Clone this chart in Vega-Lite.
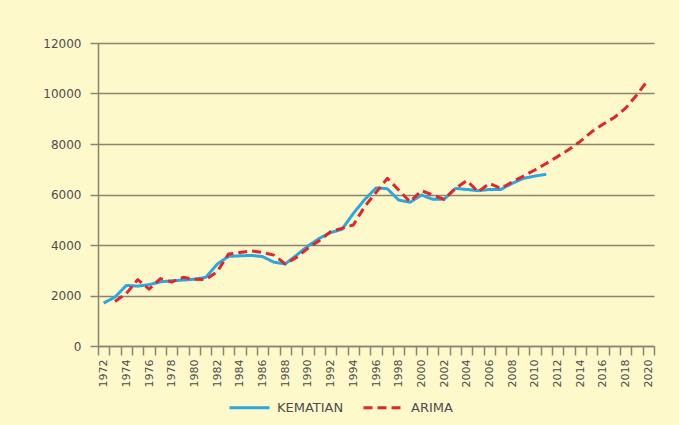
{
  "$schema": "https://vega.github.io/schema/vega-lite/v6.json",
  "width": 556,
  "height": 303,
  "autosize": "none",
  "padding": {"left": 98, "top": 43, "right": 25, "bottom": 79},
  "background": "#fef9cb",
  "config": {
    "view": {"stroke": null},
    "font": "DejaVu Sans",
    "axis": {
      "labelFont": "DejaVu Sans",
      "labelColor": "#4d4d4d",
      "domainColor": "#8a8470",
      "tickColor": "#8a8470",
      "gridColor": "#8a8470",
      "domainWidth": 1.5,
      "tickWidth": 1.5,
      "gridWidth": 1.5,
      "gridOpacity": 1,
      "title": null
    }
  },
  "data": {
    "values": [
      {"year": 1972, "KEMATIAN": 1700, "ARIMA": null},
      {"year": 1973, "KEMATIAN": 1940, "ARIMA": 1760},
      {"year": 1974, "KEMATIAN": 2400, "ARIMA": 2080},
      {"year": 1975, "KEMATIAN": 2370, "ARIMA": 2630},
      {"year": 1976, "KEMATIAN": 2430, "ARIMA": 2250},
      {"year": 1977, "KEMATIAN": 2540, "ARIMA": 2670},
      {"year": 1978, "KEMATIAN": 2585, "ARIMA": 2530},
      {"year": 1979, "KEMATIAN": 2610, "ARIMA": 2720},
      {"year": 1980, "KEMATIAN": 2645, "ARIMA": 2640},
      {"year": 1981, "KEMATIAN": 2720, "ARIMA": 2630},
      {"year": 1982, "KEMATIAN": 3240, "ARIMA": 2940},
      {"year": 1983, "KEMATIAN": 3550, "ARIMA": 3640},
      {"year": 1984, "KEMATIAN": 3570, "ARIMA": 3700},
      {"year": 1985, "KEMATIAN": 3590, "ARIMA": 3770},
      {"year": 1986, "KEMATIAN": 3540, "ARIMA": 3700},
      {"year": 1987, "KEMATIAN": 3320, "ARIMA": 3600},
      {"year": 1988, "KEMATIAN": 3250, "ARIMA": 3250},
      {"year": 1989, "KEMATIAN": 3600, "ARIMA": 3510},
      {"year": 1990, "KEMATIAN": 3960, "ARIMA": 3870},
      {"year": 1991, "KEMATIAN": 4260, "ARIMA": 4170},
      {"year": 1992, "KEMATIAN": 4490, "ARIMA": 4530},
      {"year": 1993, "KEMATIAN": 4620, "ARIMA": 4660},
      {"year": 1994, "KEMATIAN": 5250, "ARIMA": 4790},
      {"year": 1995, "KEMATIAN": 5800, "ARIMA": 5520},
      {"year": 1996, "KEMATIAN": 6260, "ARIMA": 6080},
      {"year": 1997, "KEMATIAN": 6230, "ARIMA": 6640},
      {"year": 1998, "KEMATIAN": 5780, "ARIMA": 6180},
      {"year": 1999, "KEMATIAN": 5690, "ARIMA": 5710},
      {"year": 2000, "KEMATIAN": 5980, "ARIMA": 6150},
      {"year": 2001, "KEMATIAN": 5810, "ARIMA": 5980},
      {"year": 2002, "KEMATIAN": 5810, "ARIMA": 5810},
      {"year": 2003, "KEMATIAN": 6240, "ARIMA": 6240},
      {"year": 2004, "KEMATIAN": 6200, "ARIMA": 6550},
      {"year": 2005, "KEMATIAN": 6150, "ARIMA": 6110},
      {"year": 2006, "KEMATIAN": 6200, "ARIMA": 6440},
      {"year": 2007, "KEMATIAN": 6200, "ARIMA": 6240},
      {"year": 2008, "KEMATIAN": 6440, "ARIMA": 6500},
      {"year": 2009, "KEMATIAN": 6640, "ARIMA": 6730},
      {"year": 2010, "KEMATIAN": 6730, "ARIMA": 6970},
      {"year": 2011, "KEMATIAN": 6800, "ARIMA": 7230},
      {"year": 2012, "KEMATIAN": null, "ARIMA": 7500},
      {"year": 2013, "KEMATIAN": null, "ARIMA": 7780},
      {"year": 2014, "KEMATIAN": null, "ARIMA": 8100},
      {"year": 2015, "KEMATIAN": null, "ARIMA": 8480},
      {"year": 2016, "KEMATIAN": null, "ARIMA": 8780},
      {"year": 2017, "KEMATIAN": null, "ARIMA": 9050},
      {"year": 2018, "KEMATIAN": null, "ARIMA": 9420},
      {"year": 2019, "KEMATIAN": null, "ARIMA": 9950},
      {"year": 2020, "KEMATIAN": null, "ARIMA": 10550}
    ]
  },
  "transform": [
    {"fold": ["KEMATIAN", "ARIMA"], "as": ["series", "value"]},
    {"filter": "datum.value != null"}
  ],
  "mark": {"type": "line", "strokeWidth": 3, "strokeCap": "butt", "strokeJoin": "round"},
  "encoding": {
    "x": {
      "field": "year",
      "type": "ordinal",
      "bandPosition": 0.5,
      "scale": {"type": "band", "paddingInner": 0, "paddingOuter": 0, "domain": [1972,1973,1974,1975,1976,1977,1978,1979,1980,1981,1982,1983,1984,1985,1986,1987,1988,1989,1990,1991,1992,1993,1994,1995,1996,1997,1998,1999,2000,2001,2002,2003,2004,2005,2006,2007,2008,2009,2010,2011,2012,2013,2014,2015,2016,2017,2018,2019,2020]},
      "axis": {
        "tickBand": "extent",
        "grid": false,
        "tickSize": 9,
        "labelAngle": -90,
        "labelPadding": 4,
        "labelFontSize": 11,
        "labelExpr": "datum.value % 2 == 0 ? datum.label : ''"
      }
    },
    "y": {
      "field": "value",
      "type": "quantitative",
      "scale": {"domain": [0, 12000], "nice": false},
      "axis": {
        "values": [0, 2000, 4000, 6000, 8000, 10000, 12000],
        "grid": true,
        "tickSize": 8,
        "labelPadding": 9,
        "labelFontSize": 12,
        "format": "d"
      }
    },
    "color": {
      "field": "series",
      "type": "nominal",
      "scale": {"domain": ["KEMATIAN", "ARIMA"], "range": ["#2aa8e0", "#e3262c"]},
      "legend": {
        "title": null,
        "orient": "none",
        "legendX": 130,
        "legendY": 343,
        "direction": "horizontal",
        "symbolType": "stroke",
        "symbolSize": 1600,
        "symbolStrokeWidth": 3,
        "labelFont": "DejaVu Sans",
        "labelFontSize": 13,
        "labelColor": "#4d4d4d",
        "labelOffset": 6,
        "columnPadding": 13,
        "padding": 0
      }
    },
    "strokeDash": {
      "field": "series",
      "type": "nominal",
      "scale": {"domain": ["KEMATIAN", "ARIMA"], "range": [[1, 0], [9, 5]]},
      "legend": {
        "title": null,
        "orient": "none",
        "legendX": 130,
        "legendY": 343,
        "direction": "horizontal",
        "symbolType": "stroke",
        "symbolSize": 1600,
        "symbolStrokeWidth": 3,
        "labelFont": "DejaVu Sans",
        "labelFontSize": 13,
        "labelColor": "#4d4d4d",
        "labelOffset": 6,
        "columnPadding": 13,
        "padding": 0
      }
    }
  }
}
